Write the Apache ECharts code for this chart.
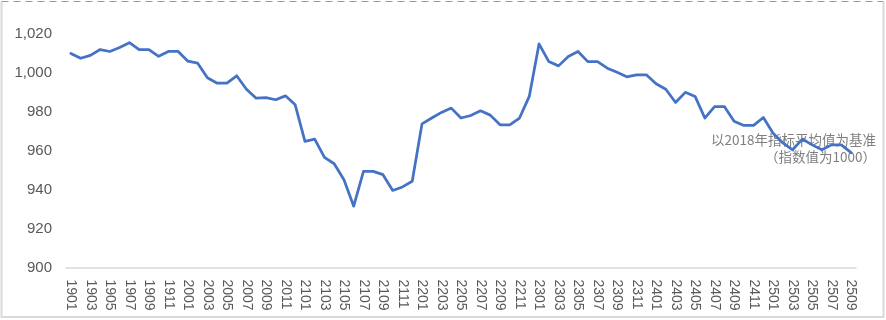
<!DOCTYPE html>
<html>
<head>
<meta charset="utf-8">
<script src="https://cdn.jsdelivr.net/npm/echarts@6/dist/echarts.min.js"></script>
<style>
html,body{margin:0;padding:0;background:#fff;}
#chart{width:886px;height:320px;}
</style>
</head>
<body>
<div id="chart"></div>
<script>
// Months from 2019-01 (1901) to 2025-09 (2509)
const years = ['19', '20', '21', '22', '23', '24', '25'];
const months = ['01','02','03','04','05','06','07','08','09','10','11','12'];
const categories = [];
years.forEach(function (y) {
  months.forEach(function (m) {
    if (y === '25' && Number(m) > 9) return;
    categories.push(y + m);
  });
});

// Index values (2018 average = 1000)
const values2019 = [1010, 1007.5, 1009, 1012, 1011, 1013, 1015.5, 1012, 1012, 1008.5, 1011, 1011];
const values2020 = [1006, 1005, 997.5, 994.7, 994.7, 998.5, 991.6, 987, 987.3, 986.2, 988.2, 983.6];
const values2021 = [964.8, 966, 956.6, 953.3, 945.1, 931.5, 949.4, 949.4, 947.7, 939.6, 941.4, 944.3];
const values2022 = [973.8, 976.8, 979.7, 981.9, 976.8, 978.1, 980.5, 978.3, 973.3, 973.3, 976.8, 987.9];
const values2023 = [1014.9, 1005.8, 1003.6, 1008.4, 1011, 1005.8, 1005.8, 1002.4, 1000.3, 998, 999, 999];
const values2024 = [994.4, 991.6, 984.8, 990, 987.9, 976.8, 982.7, 982.7, 975.1, 973, 973, 977.1];
const values2025 = [969, 964, 960.5, 966, 963, 960.5, 963, 963, 959];
const seriesValues = [].concat(values2019, values2020, values2021, values2022, values2023, values2024, values2025);

const yMin = 900, yMax = 1030, yInterval = 20;
const noteLines = ['以2018年指标平均值为基准', '（指数值为1000）'];

const chart = echarts.init(document.getElementById('chart'), null, {renderer: 'canvas'});
chart.setOption({
  backgroundColor: '#ffffff',
  animation: false,
  grid: {left: 66, right: 30, top: 14.5, bottom: 52.5, containLabel: false},
  xAxis: {
    type: 'category',
    data: categories,
    boundaryGap: true,
    axisLine: {show: true, lineStyle: {color: '#d9d9d9', width: 1.5}},
    axisTick: {show: false},
    axisLabel: {
      interval: 1,
      rotate: -90,
      margin: 12,
      color: '#595959',
      fontSize: 14,
      fontFamily: 'Liberation Sans, Arial, sans-serif'
    },
    splitLine: {show: false}
  },
  yAxis: {
    type: 'value',
    min: yMin,
    max: yMax,
    interval: yInterval,
    axisLine: {show: false},
    axisTick: {show: false},
    splitLine: {show: false},
    axisLabel: {
      showMaxLabel: false,
      margin: 14,
      color: '#595959',
      fontSize: 15,
      fontFamily: 'Liberation Sans, Arial, sans-serif',
      formatter: function (v) { return v % yInterval === 0 ? v.toLocaleString('en-US') : ''; }
    }
  },
  graphic: [
    {
      type: 'polyline', silent: true, z: 0,
      shape: {points: [[1.5, 2], [1.5, 317], [883.5, 317], [883.5, 2]]},
      style: {stroke: '#d9d9d9', lineWidth: 2, fill: null}
    },
    {
      type: 'line', silent: true, z: 0,
      shape: {x1: 1.5, y1: 1.5, x2: 883.5, y2: 1.5},
      style: {stroke: '#9a9a9a', lineWidth: 1.2, lineDash: [7, 5]}
    },
    {
      type: 'text', silent: true, z: 0,
      x: 876, y: 140,
      style: {text: noteLines[0], textAlign: 'right', textVerticalAlign: 'middle', fill: '#7f7f7f', fontSize: 13.5, fontFamily: 'Noto Sans CJK SC, sans-serif'}
    },
    {
      type: 'text', silent: true, z: 0,
      x: 876, y: 157,
      style: {text: noteLines[1], textAlign: 'right', textVerticalAlign: 'middle', fill: '#7f7f7f', fontSize: 13.5, fontFamily: 'Noto Sans CJK SC, sans-serif'}
    }
  ],
  series: [{
    type: 'line',
    data: seriesValues,
    showSymbol: false,
    symbol: 'none',
    smooth: false,
    z: 5,
    lineStyle: {color: '#4472c4', width: 2.75, join: 'round', cap: 'round'},
    itemStyle: {color: '#4472c4'}
  }]
});
</script>
</body>
</html>
